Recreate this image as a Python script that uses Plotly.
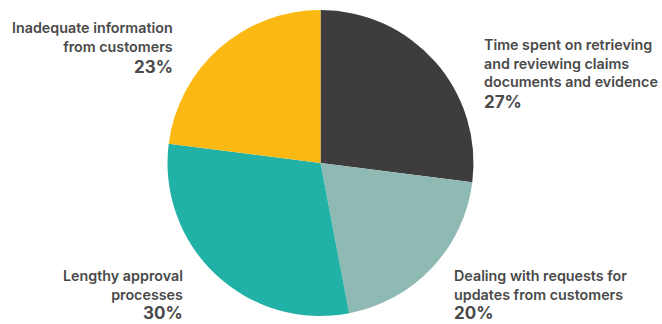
import plotly.graph_objects as go

# Share of time lost to each bottleneck in claims handling
categories = [
    "Time spent on retrieving<br>and reviewing claims<br>documents and evidence",
    "Dealing with requests for<br>updates from customers",
    "Lengthy approval<br>processes",
    "Inadequate information<br>from customers",
]
values = [27, 20, 30, 23]
colors = ["#3e3c3d", "#8fb9b3", "#22b1a6", "#fdb913"]

W, H = 662, 324
TEXT_COLOR = "#4a4a4a"


def px(x):
    return x / W


def py(y):
    return 1 - y / H


fig = go.Figure(
    go.Pie(
        labels=[c.replace("<br>", " ") for c in categories],
        values=values,
        sort=False,
        direction="clockwise",
        rotation=0,
        marker=dict(colors=colors, line=dict(width=0)),
        textinfo="none",
        hoverinfo="label+percent",
        domain=dict(x=[px(167), px(474)], y=[py(316), py(10)]),
        showlegend=False,
    )
)

# label placement: (anchor x, text-block centre y, percent centre y, side)
placement = [
    (482, 63, 102, "left"),
    (452, 285, 313, "left"),
    (185, 285, 313, "right"),
    (175, 37, 67, "right"),
]

annotations = []
for cat, val, (x, ty, vy, side) in zip(categories, values, placement):
    annotations.append(dict(
        x=px(x), y=py(ty), xref="paper", yref="paper",
        text=cat, showarrow=False, xanchor=side, yanchor="middle",
        align=side,
        font=dict(family="Inter", size=14.3, color=TEXT_COLOR, weight=600),
    ))
    annotations.append(dict(
        x=px(x), y=py(vy), xref="paper", yref="paper",
        text=f"{val}%", showarrow=False, xanchor=side, yanchor="middle",
        align=side,
        font=dict(family="Inter", size=17, color=TEXT_COLOR, weight=700),
    ))

fig.update_layout(
    width=W, height=H,
    margin=dict(l=0, r=0, t=0, b=0),
    paper_bgcolor="white",
    plot_bgcolor="white",
    annotations=annotations,
)

fig.write_html("out.html")
